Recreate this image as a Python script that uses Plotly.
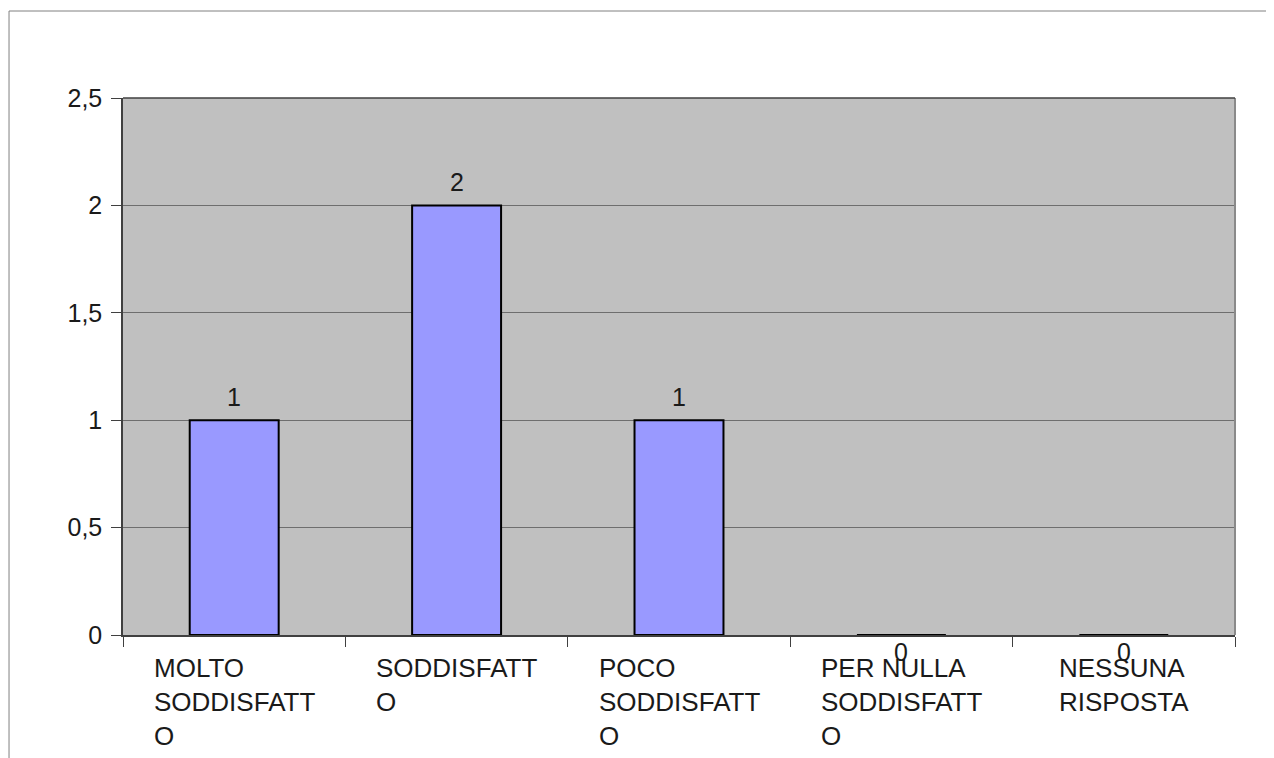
import plotly.graph_objects as go

categories = ["MOLTO SODDISFATTO", "SODDISFATTO", "POCO SODDISFATTO", "PER NULLA SODDISFATTO", "NESSUNA RISPOSTA"]
tick_labels = ["MOLTO<br>SODDISFATT<br>O", "SODDISFATT<br>O", "POCO<br>SODDISFATT<br>O",
               "PER NULLA<br>SODDISFATT<br>O", "NESSUNA<br>RISPOSTA"]
values = [1, 2, 1, 0, 0]

FONT = "Liberation Sans, Arial, sans-serif"
TEXT = "#1a1a1a"

fig = go.Figure()
fig.add_trace(
    go.Bar(
        x=categories,
        y=values,
        width=0.4,
        marker=dict(color="#9999ff", line=dict(color="#000000", width=2)),
        hoverinfo="skip",
    )
)

# value labels (zero values sit just under the axis, like the source)
for cat, val in zip(categories, values):
    fig.add_annotation(
        x=cat, y=val, xref="x", yref="y", text=str(val), showarrow=False,
        yshift=23 if val else -17, font=dict(size=25, color=TEXT, family=FONT),
    )

# category labels: block centred under the category, lines left-aligned
for cat, lab in zip(categories, tick_labels):
    fig.add_annotation(
        x=cat, y=0, xref="x", yref="paper", text=lab, showarrow=False,
        xanchor="center", yanchor="top", align="left", yshift=-16,
        font=dict(size=26, color=TEXT, family=FONT),
    )

# outer frame
fig.add_shape(type="line", xref="paper", yref="paper", x0=-0.1025, x1=-0.1025, y0=1.162, y1=-0.3,
              line=dict(color="#808080", width=1))
fig.add_shape(type="line", xref="paper", yref="paper", x0=-0.1025, x1=1.1, y0=1.162, y1=1.162,
              line=dict(color="#808080", width=1))
# plot area border
fig.add_shape(type="line", xref="paper", yref="paper", x0=1, x1=1, y0=0, y1=1,
              line=dict(color="#8a8a8a", width=2))
fig.add_shape(type="line", xref="paper", yref="paper", x0=0, x1=1, y0=1, y1=1,
              line=dict(color="#404040", width=1.5))

fig.update_layout(
    width=1274,
    height=758,
    paper_bgcolor="#ffffff",
    plot_bgcolor="#c0c0c0",
    separators=",.",
    showlegend=False,
    font=dict(family=FONT, size=25, color=TEXT),
    margin=dict(l=115, r=47, t=90, b=131),
    xaxis=dict(
        showticklabels=False, showgrid=False, zeroline=False,
        ticks="outside", tickson="boundaries", ticklen=10, tickcolor="#404040",
        showline=True, linecolor="#404040", linewidth=1.5,
    ),
    yaxis=dict(
        range=[0, 2.5], dtick=0.5, tickformat=",.1~f",
        ticks="outside", ticklen=10, tickcolor="#404040", ticklabelstandoff=4,
        showgrid=True, gridcolor="#6e6e6e", gridwidth=1, zeroline=False,
        showline=True, linecolor="#404040", linewidth=1.5,
        tickfont=dict(size=25, color=TEXT, family=FONT),
    ),
)

fig.write_html("out.html")
